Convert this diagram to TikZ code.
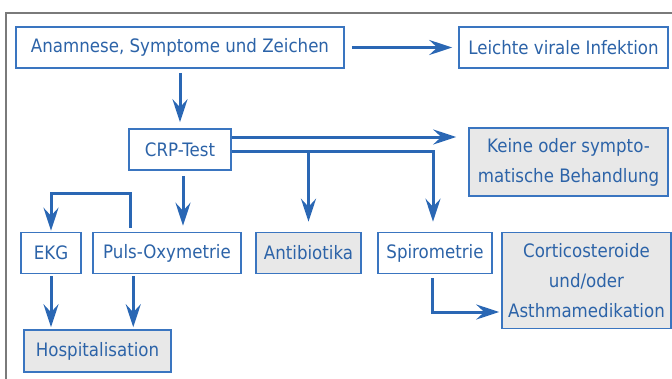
\documentclass[tikz,border=0pt]{standalone}
\usepackage{fontspec}
\setmainfont{DejaVu Sans}[FakeStretch=0.9]
\usetikzlibrary{arrows.meta,calc}
\definecolor{txtblue}{HTML}{2C63A8}
\definecolor{boxblue}{HTML}{3A75C0}
\definecolor{arrblue}{HTML}{2A67B4}
\definecolor{boxgray}{HTML}{E8E8E8}
\definecolor{framegray}{HTML}{7A7A7A}
\tikzset{
  box/.style={draw=boxblue, line width=1.5pt, fill=white, text=txtblue, inner sep=0pt,
    align=center, font=\fontsize{18.5}{30}\selectfont},
  gbox/.style={box, fill=boxgray},
  arr/.style={draw=arrblue, line width=3pt, -{Stealth[length=23pt,width=15pt,inset=8pt]}},
}
\begin{document}
\begin{tikzpicture}[x=1pt,y=-1pt]
\useasboundingbox (0,0) rectangle (672,378);
\draw[framegray, line width=1.4pt] (6,13) rectangle (700,400);
% nodes
\node[box, minimum width=328pt, minimum height=41pt] (anam) at (180,47.5) {Anamnese, Symptome und Zeichen};
\node[box, minimum width=209pt, minimum height=41pt] (leicht) at (563.5,47.5) {Leichte virale Infektion};
\node[box, minimum width=102pt, minimum height=41pt] (crp) at (180,149.5) {CRP-Test};
\node[gbox, minimum width=199pt, minimum height=68pt] (keine) at (568.5,162) {Keine oder sympto-\\matische Behandlung};
\node[box, minimum width=60pt, minimum height=41pt] (ekg) at (51,253) {EKG};
\node[box, minimum width=148pt, minimum height=41pt] (puls) at (167,253) {Puls-Oxymetrie};
\node[gbox, minimum width=105pt, minimum height=41pt] (anti) at (308.5,253) {Antibiotika};
\node[box, minimum width=114pt, minimum height=41pt] (spiro) at (435,253) {Spirometrie};
\node[gbox, minimum width=169pt, minimum height=96pt] (cort) at (586.5,280.5) {Corticosteroide\\und/oder\\Asthmamedikation};
\node[gbox, minimum width=147pt, minimum height=42pt] (hosp) at (97.5,351) {Hospitalisation};
% connectors
\draw[arr, shorten <=7pt, shorten >=6pt] (anam.east) -- (leicht.west);
\draw[arr, shorten <=4pt, shorten >=6pt] (anam.south) -- (crp.north);
\draw[arr, shorten >=12pt] ($(crp.east)+(0,-12.5)$) -- ($(keine.west)+(0,-25)$);
\coordinate (lo) at ($(crp.east)+(0,1.5)$);
\draw[arr, shorten >=10pt] (lo) -- (lo -| 433,0) -- (433,0 |- spiro.north);
\draw[arr, shorten >=10pt] (lo -| anti.north) -- (anti.north);
\draw[arr, shorten <=5pt, shorten >=6pt] (crp.south -| 183,0) -- (183,0 |- puls.north);
\draw[arr, shorten >=1pt] ($(puls.north west)+(38,-4)$) -- ++(0,-34) -| (ekg.north);
\draw[arr, shorten <=2pt, shorten >=2pt] (ekg.south) -- (ekg.south |- hosp.north);
\coordinate (ph) at ($(puls.south west)+(41,0)$);
\draw[arr, shorten <=2pt, shorten >=2pt] (ph) -- (ph |- hosp.north);
\draw[arr, shorten >=2pt] ($(spiro.south)+(-3,4)$) |- ($(cort.west)+(0,31.5)$);
\end{tikzpicture}
\end{document}
